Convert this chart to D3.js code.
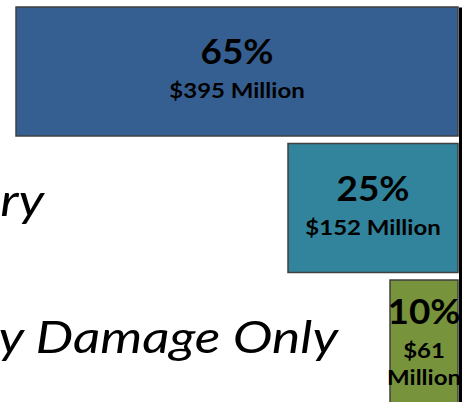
<!DOCTYPE html>
<html>
<head>
<meta charset="utf-8">
<script src="https://cdn.jsdelivr.net/npm/d3@7"></script>
<style>
  html, body { margin: 0; padding: 0; background: #fff; }
  svg { display: block; }
</style>
</head>
<body>
<svg id="chart" width="463" height="402"></svg>
<script>
// Crash cost shares by severity
const categories = ["Fatal", "Injury", "Property Damage Only"];
const shares = [65, 25, 10];          // percent of total cost
const costsMillion = [395, 152, 61];  // dollars, millions
const barColors = ["#365f91", "#31849b", "#77933c"];

// right edge of each category caption (captions sit in free text boxes)
const captionEnd = [-6, 44, 338];

const W = 463, H = 402;
const stretch = 1.2; // text is set slightly wide

const svg = d3.select("#chart");
svg.append("rect").attr("width", W).attr("height", H).attr("fill", "#fff");

const x = d3.scaleLinear().domain([0, 65]).range([458, 16]);
const y = d3.scaleBand().domain(categories).range([7, 409]).paddingInner(0.055).paddingOuter(0);

const rows = categories.map((c, i) => ({
  cat: c, share: shares[i], cost: costsMillion[i], color: barColors[i], end: captionEnd[i]
}));

// category captions
svg.append("g").selectAll("text").data(rows).join("text")
  .attr("transform", d => `translate(${d.end},${y(d.cat) + y.bandwidth() / 2 + 8}) scale(${stretch},1)`)
  .attr("text-anchor", "end")
  .style("font-family", "Lato, 'Open Sans', sans-serif")
  .style("font-style", "italic")
  .style("font-size", "44.5px")
  .attr("fill", "#000")
  .text(d => d.cat);

// bars
svg.append("g").selectAll("rect").data(rows).join("rect")
  .attr("x", d => x(d.share))
  .attr("y", d => y(d.cat))
  .attr("width", d => x(0) - x(d.share))
  .attr("height", y.bandwidth())
  .attr("fill", d => d.color)
  .attr("stroke", "#404040")
  .attr("stroke-width", 1.5);

// value axis line on the right
const axis = svg.append("g")
  .attr("transform", `translate(${x(0) + 2},0)`)
  .call(d3.axisRight(y).tickSize(0).tickSizeOuter(0).tickFormat(""));
axis.select(".domain").attr("stroke", "#000").attr("stroke-width", 3);

// labels inside bars: share on top, cost below (wrapped when the bar is narrow)
const pctCap = 24, pctGap = 34, lineGap = 27;
const lab = svg.append("g").selectAll("g").data(rows).join("g");

lab.each(function (d) {
  const g = d3.select(this);
  const cx = (x(d.share) + x(0)) / 2;
  const maxW = x(0) - x(d.share) - 4;
  const words = [`$${d.cost}`, "Million"];

  // measure the one-line cost text
  const probe = g.append("text")
    .style("font-family", "Lato, sans-serif").style("font-weight", "bold").style("font-size", "20px")
    .text(words.join(" "));
  const oneLine = probe.node().getComputedTextLength() * stretch <= maxW;
  probe.remove();
  const lines = oneLine ? [words.join(" ")] : words;

  const blockH = pctCap + pctGap + lineGap * (lines.length - 1);
  const mid = y(d.cat) + y.bandwidth() / 2 - 2;
  const top = mid - blockH / 2;
  const pctBase = top + pctCap;

  g.append("text")
    .attr("transform", `translate(${cx},${pctBase}) scale(1.1,1)`)
    .attr("text-anchor", "middle")
    .style("font-family", "Lato, sans-serif").style("font-weight", "bold").style("font-size", "33.5px")
    .attr("fill", "#000")
    .text(`${d.share}%`);

  lines.forEach((t, k) => {
    g.append("text")
      .attr("transform", `translate(${cx},${pctBase + pctGap + k * lineGap}) scale(${stretch},1)`)
      .attr("text-anchor", "middle")
      .style("font-family", "Lato, sans-serif").style("font-weight", "bold").style("font-size", "20px")
      .attr("fill", "#000")
      .text(t);
  });
});
</script>
</body>
</html>
